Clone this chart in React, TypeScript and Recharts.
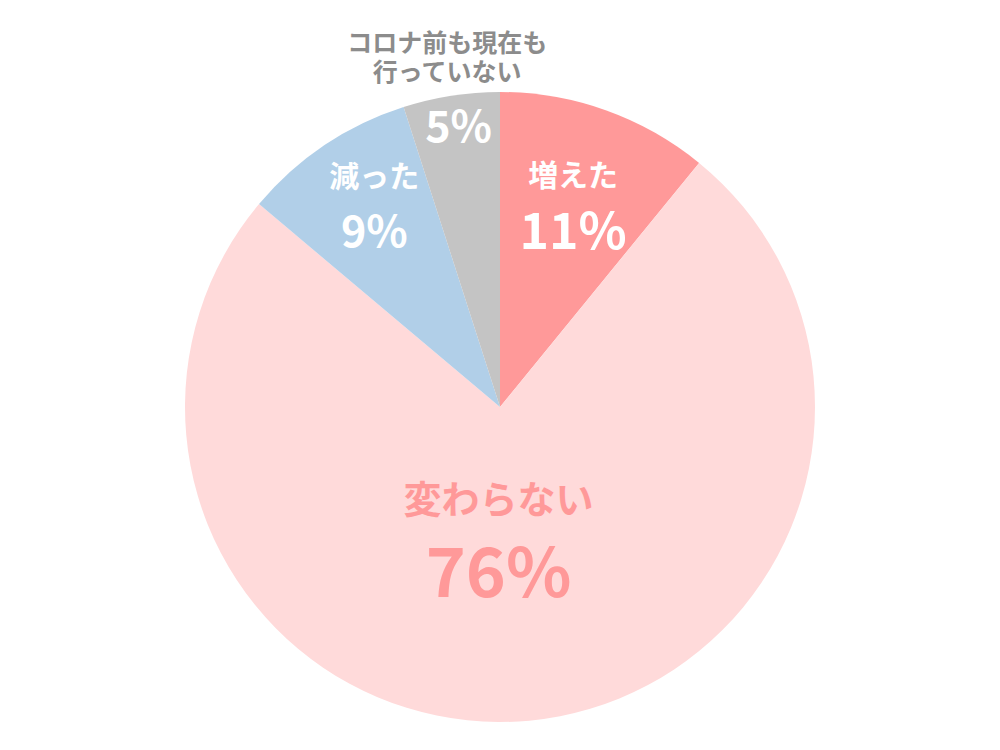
import { PieChart, Pie, Cell } from "recharts";

const categories = ["増えた", "変わらない", "減った", "コロナ前も現在も行っていない"];
const shares = [11, 76, 9, 5];
const outerLines = ["コロナ前も現在も", "行っていない"];

const colors = ["#FF9999", "#FFDADA", "#B1CFE8", "#C4C4C4"];

// label placement per slice: radius along the mid angle, x nudge, vertical offsets, sizes
const labelStyle = [
  { r: 212, dx: 2, nameDy: -34, valueDy: 20, nameSize: 30, valueSize: 50, color: "#fff" },
  { r: 135, dx: -14, nameDy: -45, valueDy: 26, nameSize: 38, valueSize: 68, color: "#FF9999" },
  { r: 240, dx: 8, nameDy: -34, valueDy: 20, nameSize: 30, valueSize: 43, color: "#fff" },
  { r: 287, dx: 3, nameDy: 0, valueDy: 0, nameSize: 25, valueSize: 43, color: "#fff" },
];

const data = categories.map((name, i) => ({ name, value: shares[i] }));

const FONT = "'Noto Sans CJK JP', 'Noto Sans', sans-serif";
const RAD = Math.PI / 180;

function renderLabel(props: any) {
  const { cx, cy, midAngle, index, name, value } = props;
  const s = labelStyle[index];
  const x = cx + s.r * Math.cos(-midAngle * RAD) + s.dx;
  const y = cy + s.r * Math.sin(-midAngle * RAD);
  if (index === 3) {
    const ro = 354;
    const ox = cx + ro * Math.cos(-midAngle * RAD) + 2;
    const oy = cy + ro * Math.sin(-midAngle * RAD);
    return (
      <g>
        <text x={x} y={y} textAnchor="middle" dominantBaseline="central" fill={s.color}
          style={{ fontFamily: FONT, fontWeight: 700, fontSize: s.valueSize }}>
          {value}%
        </text>
        {outerLines.map((line, k) => (
          <text key={k} x={ox} y={oy - 16 + k * 29} textAnchor="middle" dominantBaseline="central"
            fill="#8C8C8C" style={{ fontFamily: FONT, fontWeight: 700, fontSize: s.nameSize }}>
            {line}
          </text>
        ))}
      </g>
    );
  }
  return (
    <g>
      <text x={x} y={y + s.nameDy} textAnchor="middle" dominantBaseline="central" fill={s.color}
        style={{ fontFamily: FONT, fontWeight: 700, fontSize: s.nameSize }}>
        {name}
      </text>
      <text x={x} y={y + s.valueDy} textAnchor="middle" dominantBaseline="central" fill={s.color}
        style={{ fontFamily: FONT, fontWeight: 700, fontSize: s.valueSize }}>
        {value}%
      </text>
    </g>
  );
}

export default function App() {
  return (
    <div style={{ position: "absolute", left: 0, top: 0, width: 1000, height: 750, background: "#fff" }}>
      <PieChart width={1000} height={750}>
        <Pie
          data={data}
          dataKey="value"
          nameKey="name"
          cx={495}
          cy={402}
          outerRadius={315}
          startAngle={90}
          endAngle={-270}
          stroke="none"
          labelLine={false}
          label={renderLabel}
          isAnimationActive={false}
        >
          {data.map((d, i) => (
            <Cell key={d.name} fill={colors[i]} stroke="none" />
          ))}
        </Pie>
      </PieChart>
    </div>
  );
}
